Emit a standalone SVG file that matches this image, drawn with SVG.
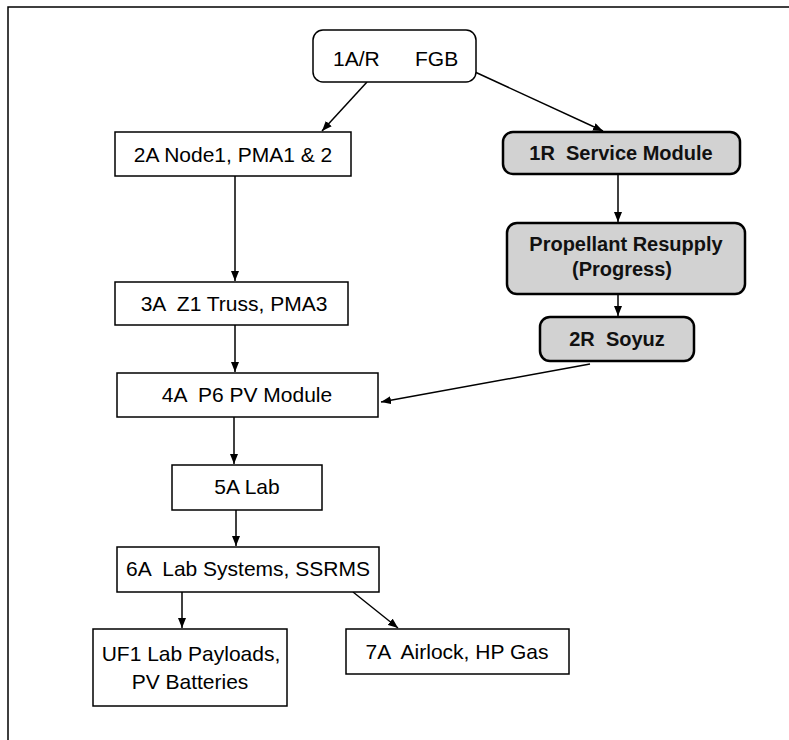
<svg xmlns="http://www.w3.org/2000/svg" width="789" height="740" viewBox="0 0 789 740">
<defs>
<style>
.box{fill:#fff;stroke:#000;stroke-width:1.5}
.shade{fill:#d2d2d2;stroke:#000;stroke-width:2.5}
.t{font-family:"Liberation Sans",Arial,sans-serif;font-size:21px;fill:#000;white-space:pre}
.b{font-family:"Liberation Sans",Arial,sans-serif;font-size:20px;font-weight:bold;fill:#111;white-space:pre}
.c{fill:none;stroke:#000;stroke-width:1.5}
</style>
<marker id="ah" viewBox="0 0 10 8" refX="10" refY="4" markerWidth="10" markerHeight="8" markerUnits="userSpaceOnUse" orient="auto">
<path d="M0,0 L10,4 L0,8 z" fill="#000"/>
</marker>
</defs>
<rect width="789" height="740" fill="#fff"/>
<g id="frame"><path d="M8,740 V7 H789" fill="none" stroke="#000" stroke-width="1.5"/></g>
<g id="connectors">
<line class="c" x1="367" y1="82" x2="322" y2="131" marker-end="url(#ah)"/>
<line class="c" x1="475" y1="72" x2="603" y2="131" marker-end="url(#ah)"/>
<line class="c" x1="618" y1="174" x2="618" y2="222" marker-end="url(#ah)"/>
<line class="c" x1="618" y1="294" x2="618" y2="316" marker-end="url(#ah)"/>
<line class="c" x1="590" y1="364" x2="381" y2="402" marker-end="url(#ah)"/>
<line class="c" x1="235" y1="176" x2="235" y2="281" marker-end="url(#ah)"/>
<line class="c" x1="235" y1="325" x2="235" y2="372" marker-end="url(#ah)"/>
<line class="c" x1="234" y1="417" x2="234" y2="464" marker-end="url(#ah)"/>
<line class="c" x1="236" y1="510" x2="236" y2="546" marker-end="url(#ah)"/>
<line class="c" x1="182" y1="592" x2="182" y2="628" marker-end="url(#ah)"/>
<line class="c" x1="353" y1="592" x2="398" y2="628" marker-end="url(#ah)"/>
</g>
<g id="n1AR"><rect class="box" x="313" y="30" width="163" height="52" rx="10"/>
<text class="t" y="66"><tspan x="333">1A/R</tspan><tspan x="415">FGB</tspan></text></g>
<g id="n2A"><rect class="box" x="115" y="132" width="236" height="44"/>
<text class="t" x="233" y="162" text-anchor="middle">2A Node1, PMA1 &amp; 2</text></g>
<g id="n1R"><rect class="shade" x="503" y="132" width="237" height="42" rx="10"/>
<text class="b" x="621" y="160" text-anchor="middle">1R  Service Module</text></g>
<g id="nProp"><rect class="shade" x="507" y="223" width="238" height="71" rx="10"/>
<text class="b" x="626" y="251" text-anchor="middle">Propellant Resupply</text>
<text class="b" x="622" y="276" text-anchor="middle">(Progress)</text></g>
<g id="n2R"><rect class="shade" x="540" y="317" width="154" height="44" rx="10"/>
<text class="b" x="617" y="346" text-anchor="middle">2R  Soyuz</text></g>
<g id="n3A"><rect class="box" x="115" y="282" width="233" height="43"/>
<text class="t" x="234" y="311" text-anchor="middle">3A  Z1 Truss, PMA3</text></g>
<g id="n4A"><rect class="box" x="117" y="373" width="261" height="44"/>
<text class="t" x="247" y="402" text-anchor="middle">4A  P6 PV Module</text></g>
<g id="n5A"><rect class="box" x="172" y="465" width="150" height="45"/>
<text class="t" x="247" y="494" text-anchor="middle">5A Lab</text></g>
<g id="n6A"><rect class="box" x="117" y="547" width="262" height="45"/>
<text class="t" x="248" y="576" text-anchor="middle">6A  Lab Systems, SSRMS</text></g>
<g id="nUF1"><rect class="box" x="93" y="629" width="194" height="77"/>
<text class="t" x="191" y="661" text-anchor="middle">UF1 Lab Payloads,</text>
<text class="t" x="190" y="689" text-anchor="middle">PV Batteries</text></g>
<g id="n7A"><rect class="box" x="346" y="629" width="223" height="45"/>
<text class="t" x="457" y="659" text-anchor="middle">7A  Airlock, HP Gas</text></g>
</svg>
